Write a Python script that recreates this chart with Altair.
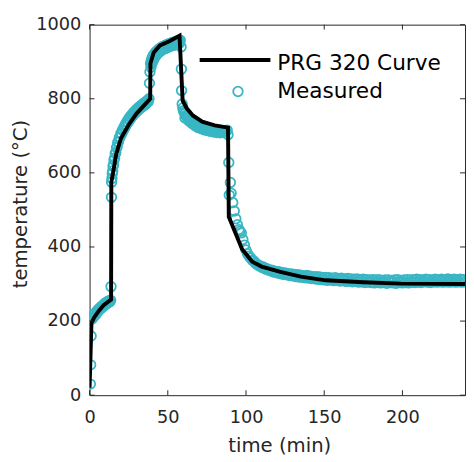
import altair as alt
import pandas as pd

# ---------------- data ----------------
x_ticks = [0, 50, 100, 150, 200]
y_ticks = [0, 200, 400, 600, 800, 1000]
legend_labels = ["PRG 320 Curve", "Measured"]

curve_time = [0, 1.2, 3, 6, 9, 13.75, 13.9, 15, 17, 20, 25, 30, 35, 38.75, 38.9,
              41, 45, 51, 57.5, 59.5, 62, 66, 72, 80, 88.5, 89, 97.5, 104, 110,
              122, 135, 151, 175, 199, 240]
curve_temp = [20, 195, 210, 228, 243, 258, 575, 600, 650, 693, 730, 760, 783, 800, 895,
              925, 944, 955, 970, 795, 775, 755, 738, 728, 722, 481, 394, 360, 347,
              333, 320, 310, 305, 301, 300]

# measured: heating (0-58.5 min)
heat_time = [0.5, 0.7, 1.0, 1.3, 1.6, 2.0, 2.5, 3.0, 3.5, 4.0,
             4.5, 5.0, 5.5, 6.0, 6.5, 7.0, 7.5, 8.0, 8.5, 9.0,
             9.5, 10.0, 10.5, 11.0, 11.5, 12.0, 12.5, 13.0, 13.5, 13.7,
             14.0, 14.1, 14.3, 14.5, 14.8, 15.0, 15.3, 15.6, 16.0, 16.4,
             16.8, 17.2, 17.6, 18.0, 18.5, 19.0, 19.5, 20.0, 20.5, 21.0,
             21.5, 22.0, 22.5, 23.0, 23.5, 24.0, 24.5, 25.0, 25.5, 26.0,
             26.5, 27.0, 27.5, 28.0, 28.5, 29.0, 29.5, 30.0, 30.5, 31.0,
             31.5, 32.0, 32.5, 33.0, 33.5, 34.0, 34.5, 35.0, 35.5, 36.0,
             36.5, 37.0, 37.5, 38.0, 38.3, 38.6, 39.0, 39.5, 40.0, 40.5,
             41.0, 42.0, 43.0, 44.0, 45.0, 46.0, 47.0, 48.0, 49.0, 50.0,
             51.0, 52.0, 53.0, 54.0, 55.0, 56.0, 57.0, 57.5, 58.0, 58.5,
             41.5, 42.5, 43.5, 44.5, 45.5, 46.5, 47.5, 48.5, 49.5, 50.5,
             51.5, 52.5, 53.5, 54.5, 55.5, 56.5, 39.2, 39.8, 40.3, 40.8]
heat_temp = [30, 82, 160, 205, 212, 208, 216, 213, 221, 218,
             226, 224, 231, 229, 235, 233, 239, 237, 243, 240,
             247, 244, 250, 247, 253, 250, 255, 252, 256, 293,
             534, 575, 585, 598, 605, 618, 622, 635, 640, 652,
             655, 668, 670, 682, 684, 695, 696, 706, 705, 715,
             714, 724, 722, 732, 729, 739, 736, 746, 742, 752,
             748, 757, 754, 762, 759, 767, 763, 771, 767, 775,
             771, 779, 775, 782, 778, 786, 781, 789, 784, 792,
             788, 795, 792, 800, 842, 872, 896, 904, 910, 915,
             919, 925, 929, 933, 936, 939, 941, 943, 945, 947,
             949, 950, 952, 953, 954, 956, 957, 950, 958, 940,
             910, 917, 922, 926, 929, 932, 934, 936, 938, 940,
             942, 943, 944, 946, 947, 949, 885, 895, 900, 905]

# measured: drop, plateau and second drop (58.7-96 min)
hold_time = [58.7, 58.8, 59.2, 59.6, 60.0, 60.5, 61.0, 61.5, 62.0, 62.5,
             63.0, 64.0, 65.0, 66.0, 67.0, 68.0, 69.0, 70.0, 71.0, 72.0,
             73.0, 74.0, 75.0, 76.0, 77.0, 78.0, 79.0, 80.0, 81.0, 82.0,
             83.0, 84.0, 85.0, 86.0, 87.0, 88.0, 88.5, 89.0, 89.3, 90.0,
             90.5, 91.5, 92.5, 93.5, 94.5, 95.5, 96.0, 61.0, 63.5, 65.5,
             67.5, 69.5, 71.5, 73.5, 75.5, 77.5, 79.5, 81.5, 83.5, 85.5]
hold_temp = [880, 822, 786, 775, 768, 763, 760, 755, 753, 749,
             747, 742, 740, 735, 734, 730, 729, 726, 725, 723,
             722, 720, 719, 718, 716, 716, 714, 715, 713, 714,
             712, 713, 712, 714, 713, 715, 703, 628, 540, 574,
             545, 520, 497, 476, 460, 447, 442, 748, 740, 733,
             727, 722, 719, 716, 714, 712, 710, 709, 708, 709]

# measured: cooling tail, one reading per minute from 97 to 240 min
tail_time = [97, 98, 99, 100, 101, 102, 103, 104, 105, 106, 107, 108,
             109, 110, 111, 112, 113, 114, 115, 116, 117, 118, 119, 120,
             121, 122, 123, 124, 125, 126, 127, 128, 129, 130, 131, 132,
             133, 134, 135, 136, 137, 138, 139, 140, 141, 142, 143, 144,
             145, 146, 147, 148, 149, 150, 151, 152, 153, 154, 155, 156,
             157, 158, 159, 160, 161, 162, 163, 164, 165, 166, 167, 168,
             169, 170, 171, 172, 173, 174, 175, 176, 177, 178, 179, 180,
             181, 182, 183, 184, 185, 186, 187, 188, 189, 190, 191, 192,
             193, 194, 195, 196, 197, 198, 199, 200, 201, 202, 203, 204,
             205, 206, 207, 208, 209, 210, 211, 212, 213, 214, 215, 216,
             217, 218, 219, 220, 221, 222, 223, 224, 225, 226, 227, 228,
             229, 230, 231, 232, 233, 234, 235, 236, 237, 238, 239, 240]
tail_temp = [438, 420, 405, 392, 382, 375, 370, 364, 362, 356, 354, 350,
             349, 345, 346, 341, 342, 338, 339, 335, 337, 332, 334, 330,
             333, 328, 331, 326, 330, 325, 328, 323, 327, 322, 326, 320,
             325, 319, 324, 318, 322, 317, 323, 316, 321, 315, 320, 314,
             320, 313, 319, 312, 318, 311, 318, 310, 317, 311, 316, 309,
             317, 310, 315, 308, 316, 309, 314, 307, 315, 308, 314, 306,
             313, 307, 314, 305, 312, 306, 313, 304, 312, 305, 311, 304,
             312, 303, 311, 305, 312, 303, 310, 304, 311, 302, 311, 304,
             310, 303, 311, 302, 312, 304, 310, 303, 311, 304, 312, 303,
             311, 305, 312, 304, 313, 305, 312, 304, 311, 306, 313, 305,
             312, 304, 311, 306, 313, 305, 312, 306, 313, 305, 312, 306,
             314, 305, 312, 306, 313, 305, 312, 306, 313, 305, 312, 306]

# ---------------- tables ----------------
curve_df = pd.DataFrame({"t": curve_time, "T": curve_temp, "i": range(len(curve_time))})
meas_df = pd.DataFrame({"t": heat_time + hold_time + tail_time,
                        "T": heat_temp + hold_temp + tail_temp})
xt_df = pd.DataFrame({"v": x_ticks})
yt_df = pd.DataFrame({"v": y_ticks})
one = pd.DataFrame({"a": [0]})

# ---------------- style ----------------
W, H = 382, 377
FONT = "DejaVu Sans"
AX = "#262626"
CYAN = "#38B6C4"
PT_SIZE = 95
PT_STROKE = 1.8

xs = alt.Scale(domain=[0, 240], nice=False, zero=False)
ys = alt.Scale(domain=[0, 1000], nice=False)

x_axis = alt.Axis(values=x_ticks, format="d", title="time (min)", grid=False, ticks=False, domain=False,
                  labelFont=FONT, labelFontSize=18, labelColor=AX, labelBaseline="alphabetic",
                  labelPadding=28, labelFlush=False,
                  titleFont=FONT, titleFontSize=20, titleFontWeight="normal",
                  titleColor=AX, titleX=W / 2 + 2, titleY=57, titleBaseline="alphabetic")
y_axis = alt.Axis(values=y_ticks, format="d", title="temperature (°C)", grid=False, ticks=False, domain=False,
                  labelFont=FONT, labelFontSize=18, labelColor=AX, labelPadding=9, labelFlush=False,
                  titleFont=FONT, titleFontSize=20, titleFontWeight="normal", titleColor=AX,
                  titleX=-70, titleY=182, titleBaseline="middle", titleAlign="center")

points = alt.Chart(meas_df).mark_point(
    filled=False, size=PT_SIZE, strokeWidth=PT_STROKE, color=CYAN, opacity=1, clip=True
).encode(x=alt.X("t:Q", scale=xs, axis=x_axis), y=alt.Y("T:Q", scale=ys, axis=y_axis))

line = alt.Chart(curve_df).mark_line(color="black", strokeWidth=4, clip=True).encode(
    x=alt.X("t:Q", scale=xs), y=alt.Y("T:Q", scale=ys), order="i:Q")

tick_b = alt.Chart(xt_df).mark_rule(color=AX, strokeWidth=1).encode(
    x=alt.X("v:Q", scale=xs), y=alt.value(H), y2=alt.value(H - 5))
tick_t = alt.Chart(xt_df).mark_rule(color=AX, strokeWidth=1).encode(
    x=alt.X("v:Q", scale=xs), y=alt.value(0), y2=alt.value(5))
tick_l = alt.Chart(yt_df).mark_rule(color=AX, strokeWidth=1).encode(
    y=alt.Y("v:Q", scale=ys), x=alt.value(0), x2=alt.value(5))
tick_r = alt.Chart(yt_df).mark_rule(color=AX, strokeWidth=1).encode(
    y=alt.Y("v:Q", scale=ys), x=alt.value(W), x2=alt.value(W - 5))

leg_line = alt.Chart(one).mark_rule(color="black", strokeWidth=4).encode(
    x=alt.value(112), x2=alt.value(184), y=alt.value(36))
leg_pt = alt.Chart(one).mark_point(filled=False, size=PT_SIZE, strokeWidth=PT_STROKE, color=CYAN,
                                   opacity=1).encode(x=alt.value(151), y=alt.value(68))
leg_t1 = alt.Chart(one).mark_text(text=legend_labels[0], font=FONT, fontSize=22, color="black",
                                  align="left", baseline="alphabetic").encode(
    x=alt.value(191), y=alt.value(46))
leg_t2 = alt.Chart(one).mark_text(text=legend_labels[1], font=FONT, fontSize=22, color="black",
                                  align="left", baseline="alphabetic").encode(
    x=alt.value(191), y=alt.value(75))

chart = alt.layer(points, line, tick_b, tick_t, tick_l, tick_r,
                  leg_line, leg_pt, leg_t1, leg_t2).properties(
    width=W, height=H,
    autosize=alt.AutoSizeParams(type="none"),
    padding={"left": 83, "top": 13, "right": 1, "bottom": 62},
    background="white",
).configure_view(stroke=AX, strokeWidth=1)

chart.save("out.html", embed_options={"renderer": "svg", "actions": False})
